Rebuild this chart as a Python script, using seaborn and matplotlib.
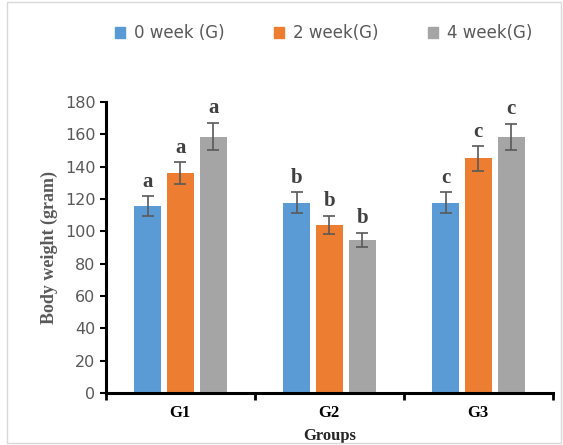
import matplotlib
matplotlib.use("Agg")
import matplotlib.pyplot as plt
import seaborn as sns
import pandas as pd
import numpy as np
from matplotlib.patches import Rectangle

groups = ["G1", "G2", "G3"]
weeks = ["0 week (G)", "2 week(G)", "4 week(G)"]
means = {
    "0 week (G)": [115.5, 117.5, 117.5],
    "2 week(G)": [135.8, 104.0, 145.0],
    "4 week(G)": [158.5, 94.5, 158.5],
}
errors = {
    "0 week (G)": [6.0, 6.5, 6.5],
    "2 week(G)": [6.8, 5.5, 7.5],
    "4 week(G)": [8.5, 4.5, 8.0],
}
letters = {
    "0 week (G)": ["a", "b", "c"],
    "2 week(G)": ["a", "b", "c"],
    "4 week(G)": ["a", "b", "c"],
}
colors = ["#5B9BD5", "#ED7D31", "#A5A5A5"]

rows = []
for w in weeks:
    for g, m in zip(groups, means[w]):
        rows.append({"Group": g, "Week": w, "Weight": m})
df = pd.DataFrame(rows)

sns.set_style("white")
plt.rcParams["font.family"] = ["DejaVu Sans"]
fig = plt.figure(figsize=(5.63, 4.45), dpi=100)
ax = fig.add_axes([0.188, 0.117, 0.794, 0.654])

sns.barplot(data=df, x="Group", y="Weight", hue="Week", order=groups,
            hue_order=weeks, palette=colors, width=0.66, gap=0.18,
            errorbar=None, ax=ax, saturation=1, legend=False)

# error bars and letters
for i, w in enumerate(weeks):
    cont = ax.containers[i]
    for j, patch in enumerate(cont.patches):
        patch.set_edgecolor("none")
        xc = patch.get_x() + patch.get_width() / 2
        h = patch.get_height()
        e = errors[w][j]
        ax.errorbar(xc, h, yerr=e, color="#595959", capsize=4.5,
                    elinewidth=1.2, capthick=1.2, fmt="none", zorder=5)
        ax.text(xc, h + e + 3, letters[w][j], ha="center", va="bottom",
                fontsize=15, fontweight="bold", color="#404040",
                family="Liberation Serif")

ax.set_ylim(0, 180)
ax.set_xlim(-0.5, 2.5)
ax.set_yticks(np.arange(0, 181, 20))
ax.tick_params(axis="y", direction="out", length=4, width=1.5,
               labelsize=11.5, labelcolor="#595959", color="black", left=True)
ax.set_xticks([0, 1, 2])
ax.set_xticklabels(groups, fontsize=12, fontweight="bold",
                   family="Liberation Serif", color="black")
ax.tick_params(axis="x", length=0, pad=9)
ax.set_xticks([-0.5, 0.5, 1.5, 2.5], minor=True)
ax.tick_params(axis="x", which="minor", direction="out", length=5,
               width=2, color="black", bottom=True)

for s in ["top", "right"]:
    ax.spines[s].set_visible(False)
for s in ["left", "bottom"]:
    ax.spines[s].set_linewidth(2.2)
    ax.spines[s].set_color("black")

ax.set_xlabel("Groups", fontsize=12, fontweight="bold",
              family="Liberation Serif", labelpad=5)
ax.set_ylabel("Body weight (gram)", fontsize=13, fontweight="bold",
              family="Liberation Serif", color="#595959", labelpad=5)

handles = [Rectangle((0, 0), 1, 1, color=c) for c in colors]
fig.legend(handles, weeks, loc="center", bbox_to_anchor=(0.575, 0.925),
           ncol=3, frameon=False, fontsize=12, handlelength=0.6,
           handleheight=0.6, columnspacing=3.0, handletextpad=0.5,
           labelcolor="#595959")

fig.patches.append(Rectangle((0.012, 0.004), 0.985, 0.992,
                             transform=fig.transFigure, fill=False,
                             edgecolor="#D9D9D9", linewidth=1))

fig.savefig("out.png", dpi=100)
